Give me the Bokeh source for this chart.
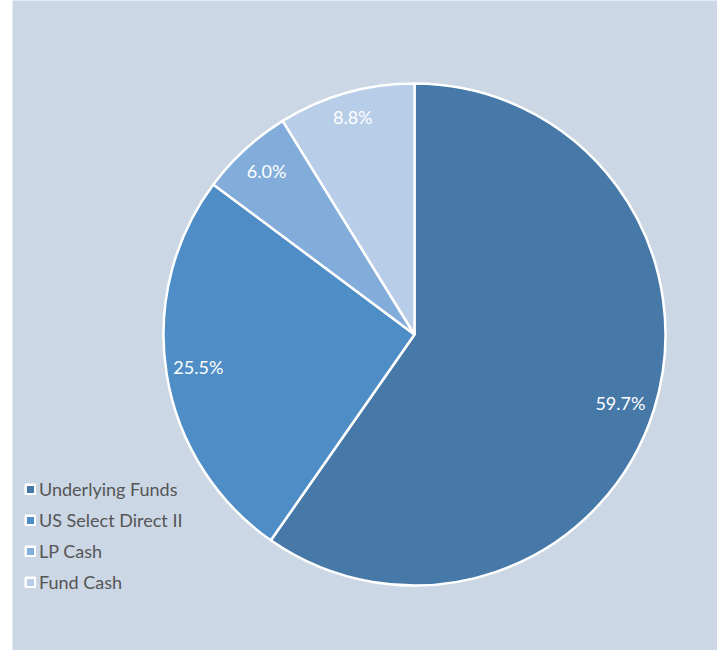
import math
from bokeh.plotting import figure
from bokeh.models import ColumnDataSource, Legend, LegendItem
from bokeh.embed import file_html
from bokeh.resources import INLINE
from bokeh.core.properties import value

categories = ["Underlying Funds", "US Select Direct II", "LP Cash", "Fund Cash"]
shares = [59.7, 25.5, 6.0, 8.8]
colors = ["#4678a8", "#4f8dc6", "#82addb", "#b8cde8"]

# layout
W, H = 705, 650
cx, cy, R = 402, 316, 251
label_r = 219
label_nudge = [(-3, -3), (0, 2), (0, 2), (-2, 7)]  # pixel offsets for label placement

total = sum(shares)
starts, ends, lx, ly, labels = [], [], [], [], []
cum = 0.0
for s, (dx, dy) in zip(shares, label_nudge):
    a0 = math.pi / 2 - cum / total * 2 * math.pi
    cum += s
    a1 = math.pi / 2 - cum / total * 2 * math.pi
    starts.append(a0)
    ends.append(a1)
    mid = (a0 + a1) / 2
    lx.append(cx + label_r * math.cos(mid) + dx)
    ly.append(cy + label_r * math.sin(mid) + dy)
    labels.append(f"{s:.1f}%")

src = ColumnDataSource(dict(cat=categories, start=starts, end=ends, color=colors,
                            x=[cx] * 4, y=[cy] * 4))
lsrc = ColumnDataSource(dict(x=lx, y=ly, text=labels))

p = figure(width=W, height=H, x_range=(0, W), y_range=(0, H),
           x_axis_type=None, y_axis_type=None, toolbar_location=None,
           output_backend="svg", min_border=0, margin=(0, 0, 0, 12),
           background_fill_color="#cbd7e5", border_fill_color="#cbd7e5",
           outline_line_color=None, match_aspect=False)
p.grid.visible = False

r = p.wedge(x="x", y="y", radius=R, start_angle="start", end_angle="end",
            direction="clock", fill_color="color", line_color="white",
            line_width=2.5, source=src)

p.text(x="x", y="y", text="text", source=lsrc, text_color="white",
       text_font=value("Lato"), text_font_size="18px",
       text_align="center", text_baseline="middle")

items = [LegendItem(label=c, renderers=[r], index=i) for i, c in enumerate(categories)]
legend = Legend(items=items, location=(12, 57), orientation="vertical",
                background_fill_alpha=0, border_line_color=None,
                padding=0, margin=0, spacing=9, glyph_width=12, glyph_height=12,
                label_height=22, label_standoff=3,
                label_text_font="Lato", label_text_font_size="18px",
                label_text_color="#555555")
p.add_layout(legend, "center")

open("out.html", "w").write(file_html(p, INLINE))
